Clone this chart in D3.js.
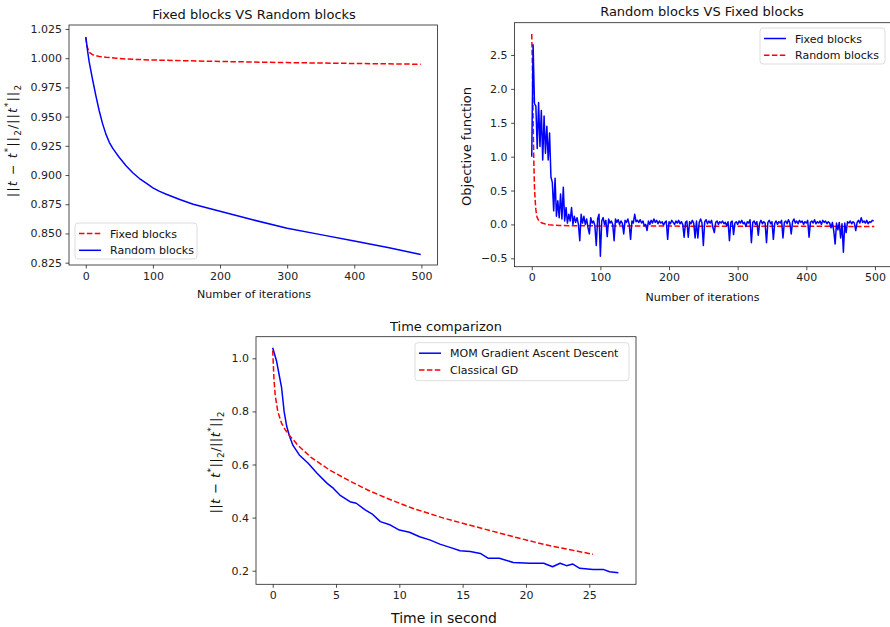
<!doctype html>
<html lang="en">
  <head>
    <meta charset="UTF-8" />
    <title>Fixed blocks VS Random blocks</title>
    <script src="https://d3js.org/d3.v7.min.js"></script>
    <style>
      body {
        margin: 0;
        background: #fff;
        font-family: 'DejaVu Sans', sans-serif;
      }

      .tick text {
        font-size: 11px;
        fill: #222;
        font-family: 'DejaVu Sans', sans-serif;
      }

      .tick line {
        stroke: #222;
        stroke-width: 0.8px;
      }

      .frame {
        fill: none;
        stroke: #222;
        stroke-width: 0.8px;
      }

      .series {
        fill: none;
        stroke-width: 1.5px;
        stroke-linejoin: round;
      }
    </style>
  </head>
  <body>
    <svg id="chart" width="890" height="627"></svg>

    <script>
      // ---- top left: Fixed blocks VS Random blocks ----
      const tlFixedIter = [0, 2, 5, 10, 20, 30, 45, 60, 95, 150, 200, 300, 400, 499];
      const tlFixedVal = [1.018, 1.01, 1.005, 1.003, 1.0015, 1.0008, 1.0, 0.9993, 0.9985,
        0.9978, 0.9972, 0.9962, 0.9955, 0.9948];
      const tlRandomIter = [0, 3, 5, 10, 15, 20, 25, 30, 35, 40, 45, 50, 60, 70, 80, 90,
        100, 110, 120, 140, 160, 180, 200, 250, 300, 350, 400, 450, 499];
      const tlRandomVal = [1.018, 1.005, 0.997, 0.982, 0.968, 0.955, 0.944, 0.935, 0.928,
        0.923, 0.919, 0.915, 0.908, 0.902, 0.897, 0.893, 0.889, 0.886, 0.8835, 0.879,
        0.875, 0.872, 0.869, 0.8615, 0.8545, 0.849, 0.8435, 0.838, 0.832];
      const tlXTicks = [0, 100, 200, 300, 400, 500];
      const tlYTicks = [0.825, 0.85, 0.875, 0.9, 0.925, 0.95, 0.975, 1.0, 1.025];

      // ---- top right: Random blocks VS Fixed blocks ----
      // fixed blocks objective, one value every 2 iterations
      const trFixedStep = 2;
      const trFixedVal = [
        1.0, 2.65, 1.78, 1.75, 1.12, 1.8, 1.15, 1.68, 0.95, 1.6,
        1.05, 1.45, 0.95, 1.35, 0.7, 0.62, 0.2, 0.68, 0.12, 0.35,
        0.1, 0.45, 0.08, 0.55, 0.05, 0.25, 0.02, 0.15, 0.05, 0.25,
        0.0, 0.12, 0.03, 0.1, 0.0, -0.24, 0.15, 0.02, 0.12, 0.0,
        0.08, -0.05, -0.14, 0.1, 0.02, 0.05, -0.02, -0.31, 0.08, 0.15,
        -0.47, 0.05, 0.1, 0.0, 0.06, -0.18, 0.08, 0.02, 0.05, 0.0,
        -0.24, 0.08, 0.03, 0.07, 0.0, 0.05, 0.02, -0.14, 0.06, 0.03,
        0.08, 0.0, -0.22, 0.05, 0.02, 0.15, 0.04, 0.06, 0.03, 0.07,
        0.02, 0.05, -0.02, 0.0, -0.09, 0.05, 0.0, 0.06, 0.02, 0.08,
        0.03, 0.06, 0.01, 0.05, 0.02, 0.04, -0.01, 0.03, 0.05, -0.22,
        0.04, 0.01, 0.06, 0.03, 0.0, 0.05, 0.02, 0.06, 0.01, 0.04,
        0.0, -0.19, 0.03, 0.05, -0.19, 0.04, 0.01, 0.06, 0.02, -0.2,
        0.05, -0.2, 0.03, 0.08, 0.02, -0.31, 0.04, 0.07, 0.01, 0.05,
        0.02, 0.06, -0.05, -0.12, 0.03, 0.05, 0.0, 0.04, 0.02, 0.05,
        0.01, 0.03, -0.02, 0.04, -0.24, 0.03, 0.05, -0.15, 0.02, 0.04,
        0.0, 0.05, 0.02, 0.06, 0.01, 0.03, -0.03, 0.04, 0.02, 0.07,
        -0.27, 0.03, 0.05, 0.0, 0.04, -0.16, 0.02, 0.06, 0.01, 0.04,
        0.02, -0.27, 0.03, 0.06, 0.01, 0.04, -0.22, 0.02, 0.05, 0.0,
        0.04, 0.02, 0.06, -0.2, 0.03, 0.05, 0.01, 0.07, 0.02, -0.14,
        0.04, 0.08, 0.02, 0.05, 0.01, 0.06, 0.03, 0.05, 0.0, 0.04,
        0.02, 0.06, -0.19, 0.03, 0.05, 0.02, 0.07, 0.01, 0.04, 0.02,
        0.05, 0.0, 0.06, 0.03, 0.05, 0.01, 0.04, 0.02, -0.05, 0.03,
        -0.1, -0.29, 0.02, -0.08, 0.03, -0.2, 0.01, -0.41, 0.02, -0.12,
        0.04, 0.02, 0.05, 0.01, 0.04, 0.02, -0.09, 0.03, 0.06, 0.02,
        0.1, 0.03, 0.05, 0.02, 0.06, 0.01, 0.04, 0.03, 0.06, 0.05,
      ];
      const trRandomIter = [0, 1, 2, 3, 4, 5, 6, 7, 8, 10, 12, 15, 20, 25, 30, 40, 60,
        100, 200, 300, 400, 499];
      const trRandomVal = [2.81, 2.3, 1.55, 0.95, 0.55, 0.36, 0.22, 0.14, 0.1, 0.06,
        0.04, 0.02, 0.005, -0.005, -0.01, -0.015, -0.02, -0.022, -0.025, -0.027,
        -0.028, -0.03];
      const trXTicks = [0, 100, 200, 300, 400, 500];
      const trYTicks = [-0.5, 0.0, 0.5, 1.0, 1.5, 2.0, 2.5];

      // ---- bottom: Time comparizon ----
      const btMomTime = [0, 0.3, 0.5, 0.7, 0.9, 1.1, 1.3, 1.6, 2.1, 2.8, 3.5, 4.3, 4.8,
        5.3, 6.1, 6.6, 7.3, 7.9, 8.5, 9.3, 10.0, 10.8, 11.6, 12.4, 13.2, 14.0, 14.8,
        15.6, 16.4, 17.0, 17.9, 19.0, 20.3, 21.4, 22.1, 22.7, 23.2, 23.7, 24.25, 25.3,
        26.1, 26.6, 27.3];
      const btMomVal = [1.04, 0.99, 0.94, 0.89, 0.8, 0.745, 0.71, 0.672, 0.636, 0.605,
        0.567, 0.529, 0.51, 0.485, 0.46, 0.454, 0.429, 0.412, 0.385, 0.372, 0.353,
        0.345, 0.328, 0.316, 0.3, 0.288, 0.275, 0.272, 0.265, 0.247, 0.247, 0.231,
        0.228, 0.228, 0.215, 0.228, 0.219, 0.225, 0.209, 0.205, 0.205, 0.196, 0.192];
      const btGdTime = [0, 0.1, 0.2, 0.4, 0.7, 1.0, 1.4, 2.0, 3.0, 4.5, 6, 7.5, 9, 11,
        13.5, 16, 19, 21.5, 24, 25.3];
      const btGdVal = [1.03, 0.92, 0.86, 0.8, 0.755, 0.73, 0.705, 0.672, 0.628, 0.579,
        0.54, 0.504, 0.473, 0.436, 0.398, 0.366, 0.328, 0.298, 0.274, 0.262];
      const btXTicks = [0, 5, 10, 15, 20, 25];
      const btYTicks = [0.2, 0.4, 0.6, 0.8, 1.0];

      const BLUE = '#0000ff';
      const RED = '#ff0000';

      const svg = d3.select('#chart');

      function zip(xs, ys) {
        return xs.map(function (x, i) {
          return [x, ys[i]];
        });
      }

      // the ||t - t*||_2 / ||t*||_2 label, rotated
      function normLabel(x, y, size, len) {
        const t = svg
          .append('text')
          .attr('transform', `translate(${x},${y}) rotate(-90)`)
          .attr('text-anchor', 'middle')
          .attr('textLength', len)
          .attr('lengthAdjust', 'spacing')
          .style('font-size', size + 'px')
          .style('fill', '#111');
        const parts = [
          ['||', 0, false, 1],
          ['t', 0, true, 1],
          [' \u2212 ', 0, false, 1],
          ['t', 0, true, 1],
          ['*', -0.45, false, 0.7],
          ['||', 0.45, false, 1],
          ['2', 0.3, false, 0.7],
          ['/||', -0.3, false, 1],
          ['t', 0, true, 1],
          ['*', -0.45, false, 0.7],
          ['||', 0.45, false, 1],
          ['2', 0.3, false, 0.7],
        ];
        parts.forEach(function (p) {
          t.append('tspan')
            .attr('dy', p[1] * size)
            .style('font-style', p[2] ? 'italic' : 'normal')
            .style('font-size', p[3] * size + 'px')
            .text(p[0]);
        });
      }

      function panel(cfg) {
        const x = d3.scaleLinear().domain(cfg.xDomain).range([cfg.left, cfg.right]);
        const y = d3.scaleLinear().domain(cfg.yDomain).range([cfg.bottom, cfg.top]);
        const g = svg.append('g');

        const clipId = 'clip-' + cfg.id;
        g.append('clipPath')
          .attr('id', clipId)
          .append('rect')
          .attr('x', cfg.left)
          .attr('y', cfg.top)
          .attr('width', cfg.right - cfg.left)
          .attr('height', cfg.bottom - cfg.top);

        const line = d3
          .line()
          .x(function (d) {
            return x(d[0]);
          })
          .y(function (d) {
            return y(d[1]);
          });

        cfg.series.forEach(function (s) {
          g.append('path')
            .attr('class', 'series')
            .attr('clip-path', `url(#${clipId})`)
            .attr('d', line(s.points))
            .style('stroke', s.color)
            .style('stroke-dasharray', s.dashed ? '5.5,2.4' : null);
        });

        g.append('g')
          .attr('transform', `translate(0,${cfg.bottom})`)
          .call(
            d3
              .axisBottom(x)
              .tickValues(cfg.xTicks)
              .tickFormat(d3.format('d'))
              .tickSize(3.5)
              .tickPadding(3.5)
              .tickSizeOuter(0),
          )
          .call(function (a) {
            a.select('.domain').remove();
          })
          .selectAll('.tick text')
          .style('font-size', cfg.tickSize + 'px');

        g.append('g')
          .attr('transform', `translate(${cfg.left},0)`)
          .call(
            d3
              .axisLeft(y)
              .tickValues(cfg.yTicks)
              .tickFormat(d3.format(cfg.yFmt))
              .tickSize(3.5)
              .tickPadding(3.5)
              .tickSizeOuter(0),
          )
          .call(function (a) {
            a.select('.domain').remove();
          })
          .selectAll('.tick text')
          .style('font-size', cfg.tickSize + 'px');

        g.append('rect')
          .attr('class', 'frame')
          .attr('x', cfg.left)
          .attr('y', cfg.top)
          .attr('width', cfg.right - cfg.left)
          .attr('height', cfg.bottom - cfg.top);

        // title + x label
        g.append('text')
          .attr('x', cfg.titleX)
          .attr('y', cfg.titleY)
          .attr('text-anchor', 'middle')
          .style('font-size', '13px')
          .style('fill', '#111')
          .text(cfg.title);

        g.append('text')
          .attr('x', cfg.xLabelX)
          .attr('y', cfg.xLabelY)
          .attr('text-anchor', 'middle')
          .style('font-size', cfg.xLabelSize + 'px')
          .style('fill', '#111')
          .text(cfg.xLabel);

        // legend
        const lg = cfg.legend;
        g.append('rect')
          .attr('x', lg.x)
          .attr('y', lg.y)
          .attr('width', lg.w)
          .attr('height', lg.h)
          .attr('rx', 3)
          .style('fill', '#fff')
          .style('fill-opacity', 0.8)
          .style('stroke', '#d4d4d4')
          .style('stroke-width', 0.8);

        lg.items.forEach(function (s, i) {
          const yy = lg.y + 10.5 + i * 16.8;
          g.append('line')
            .attr('x1', lg.x + 4)
            .attr('x2', lg.x + 26)
            .attr('y1', yy)
            .attr('y2', yy)
            .style('stroke', s.color)
            .style('stroke-width', 1.5)
            .style('stroke-dasharray', s.dashed ? '5.5,2.4' : null);
          g.append('text')
            .attr('x', lg.x + 35)
            .attr('y', yy + 4)
            .style('font-size', '11px')
            .style('fill', '#111')
            .text(s.label);
        });
      }

      const tlFixed = { label: 'Fixed blocks', color: RED, dashed: true, points: zip(tlFixedIter, tlFixedVal) };
      const tlRandom = { label: 'Random blocks', color: BLUE, dashed: false, points: zip(tlRandomIter, tlRandomVal) };

      panel({
        id: 'tl',
        left: 69,
        right: 437.5,
        top: 25,
        bottom: 265,
        xDomain: [-25, 524],
        yDomain: [0.823, 1.0284],
        xTicks: tlXTicks,
        yTicks: tlYTicks,
        yFmt: '.3f',
        tickSize: 11,
        series: [tlFixed, tlRandom],
        title: 'Fixed blocks VS Random blocks',
        titleX: 254,
        titleY: 19,
        xLabel: 'Number of iterations',
        xLabelX: 254,
        xLabelY: 298,
        xLabelSize: 11,
        legend: { x: 75, y: 223, w: 122, h: 36, items: [tlFixed, tlRandom] },
      });

      const trFixed = {
        label: 'Fixed blocks',
        color: BLUE,
        dashed: false,
        points: trFixedVal.map(function (v, i) {
          return [i * trFixedStep, v];
        }),
      };
      const trRandom = { label: 'Random blocks', color: RED, dashed: true, points: zip(trRandomIter, trRandomVal) };

      panel({
        id: 'tr',
        left: 514.6,
        right: 891.4,
        top: 22.7,
        bottom: 266.7,
        xDomain: [-24.95, 523.95],
        yDomain: [-0.624, 2.977],
        xTicks: trXTicks,
        yTicks: trYTicks,
        yFmt: '.1f',
        tickSize: 11,
        series: [trRandom, trFixed],
        title: 'Random blocks VS Fixed blocks',
        titleX: 702,
        titleY: 16,
        xLabel: 'Number of iterations',
        xLabelX: 702.5,
        xLabelY: 301,
        xLabelSize: 11,
        legend: { x: 760, y: 28, w: 125, h: 36, items: [trFixed, trRandom] },
      });

      const btMom = { label: 'MOM Gradient Ascent Descent', color: BLUE, dashed: false, points: zip(btMomTime, btMomVal) };
      const btGd = { label: 'Classical GD', color: RED, dashed: true, points: zip(btGdTime, btGdVal) };

      panel({
        id: 'bt',
        left: 256,
        right: 636,
        top: 336.7,
        bottom: 584.3,
        xDomain: [-1.32, 28.69],
        yDomain: [0.1488, 1.0814],
        xTicks: btXTicks,
        yTicks: btYTicks,
        yFmt: '.1f',
        tickSize: 11,
        series: [btMom, btGd],
        title: 'Time comparizon',
        titleX: 446,
        titleY: 331,
        xLabel: 'Time in second',
        xLabelX: 444,
        xLabelY: 623,
        xLabelSize: 14,
        legend: { x: 415, y: 342.7, w: 214, h: 38, items: [btMom, btGd] },
      });

      normLabel(17, 141, 12.5, 112);
      normLabel(220, 462.5, 13, 102);

      svg
        .append('text')
        .attr('transform', 'translate(471,146.5) rotate(-90)')
        .attr('text-anchor', 'middle')
        .style('font-size', '13px')
        .style('fill', '#111')
        .text('Objective function');
    </script>
  </body>
</html>
